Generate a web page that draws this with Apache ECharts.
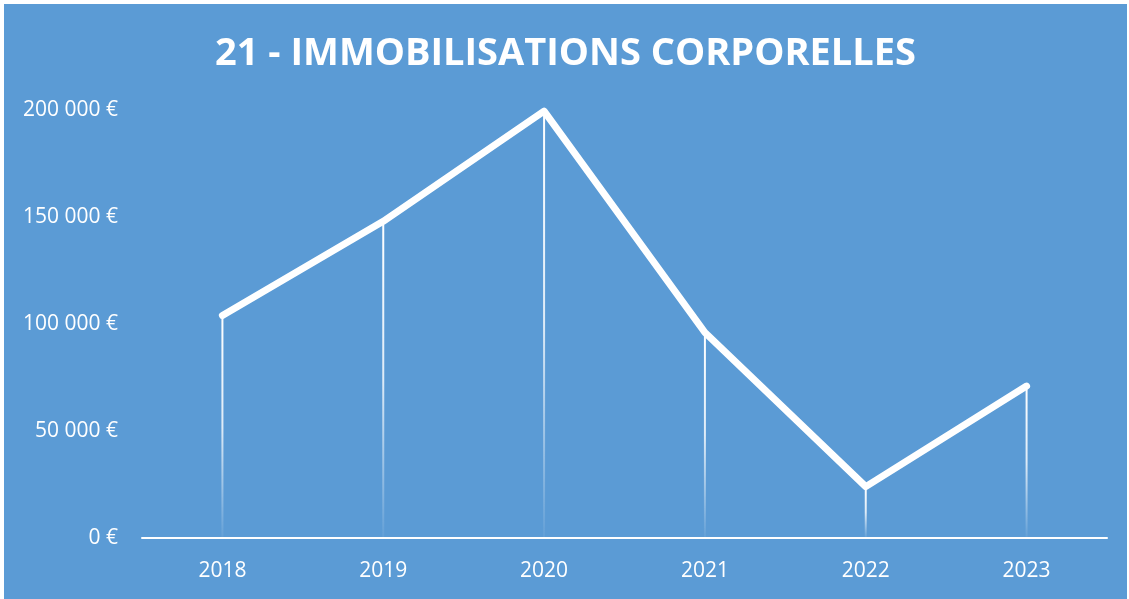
<!DOCTYPE html>
<html>
<head>
<meta charset="utf-8">
<script src="https://cdn.jsdelivr.net/npm/echarts@6/dist/echarts.min.js"></script>
<style>
  html, body { margin: 0; padding: 0; background: #fff; }
  #chart { position: absolute; left: 4px; top: 4px; width: 1123px; height: 595px; background: #5b9bd5; }
</style>
</head>
<body>
<div id="chart"></div>
<script>
// données
const years = ['2018', '2019', '2020', '2021', '2022', '2023']
const values = [104000, 148000, 199500, 96000, 24000, 71000]
const yTicks = [0, 50000, 100000, 150000, 200000]

// format "200 000 €"
function euro(v) {
  return String(v).replace(/\B(?=(\d{3})+(?!\d))/g, ' ') + ' €'
}

const myChart = echarts.init(document.getElementById('chart'))
myChart.setOption({
  animation: false,
  title: {
    text: '21 - IMMOBILISATIONS CORPORELLES',
    left: 'center',
    top: 26,
    textStyle: {
      color: '#fff',
      fontFamily: 'Open Sans',
      fontWeight: 'bold',
      fontSize: 38
    }
  },
  grid: {
    left: 138,
    right: 20,
    top: 106,
    bottom: 61
  },
  xAxis: {
    type: 'category',
    data: years,
    axisLine: { lineStyle: { color: '#fff', width: 2 } },
    axisTick: { show: false },
    axisLabel: { color: '#fff', fontSize: 21, fontFamily: 'Open Sans', margin: 23 }
  },
  yAxis: {
    type: 'value',
    min: yTicks[0],
    max: yTicks[yTicks.length - 1],
    interval: 50000,
    axisLine: { show: false },
    axisTick: { show: false },
    splitLine: { show: false },
    axisLabel: {
      color: '#fff',
      fontSize: 21,
      fontFamily: 'Open Sans',
      margin: 24,
      formatter: euro
    }
  },
  series: [
    {
      // lignes de chute
      type: 'bar',
      data: values,
      barWidth: 2,
      silent: true,
      itemStyle: {
        color: new echarts.graphic.LinearGradient(0, 0, 0, 1, [
          { offset: 0, color: 'rgba(255,255,255,1)' },
          { offset: 0.5, color: 'rgba(255,255,255,0.8)' },
          { offset: 1, color: 'rgba(255,255,255,0.05)' }
        ])
      }
    },
    {
      type: 'line',
      data: values,
      symbol: 'none',
      lineStyle: { color: '#fff', width: 7, cap: 'round', join: 'round' },
      z: 3
    }
  ]
})
</script>
</body>
</html>
